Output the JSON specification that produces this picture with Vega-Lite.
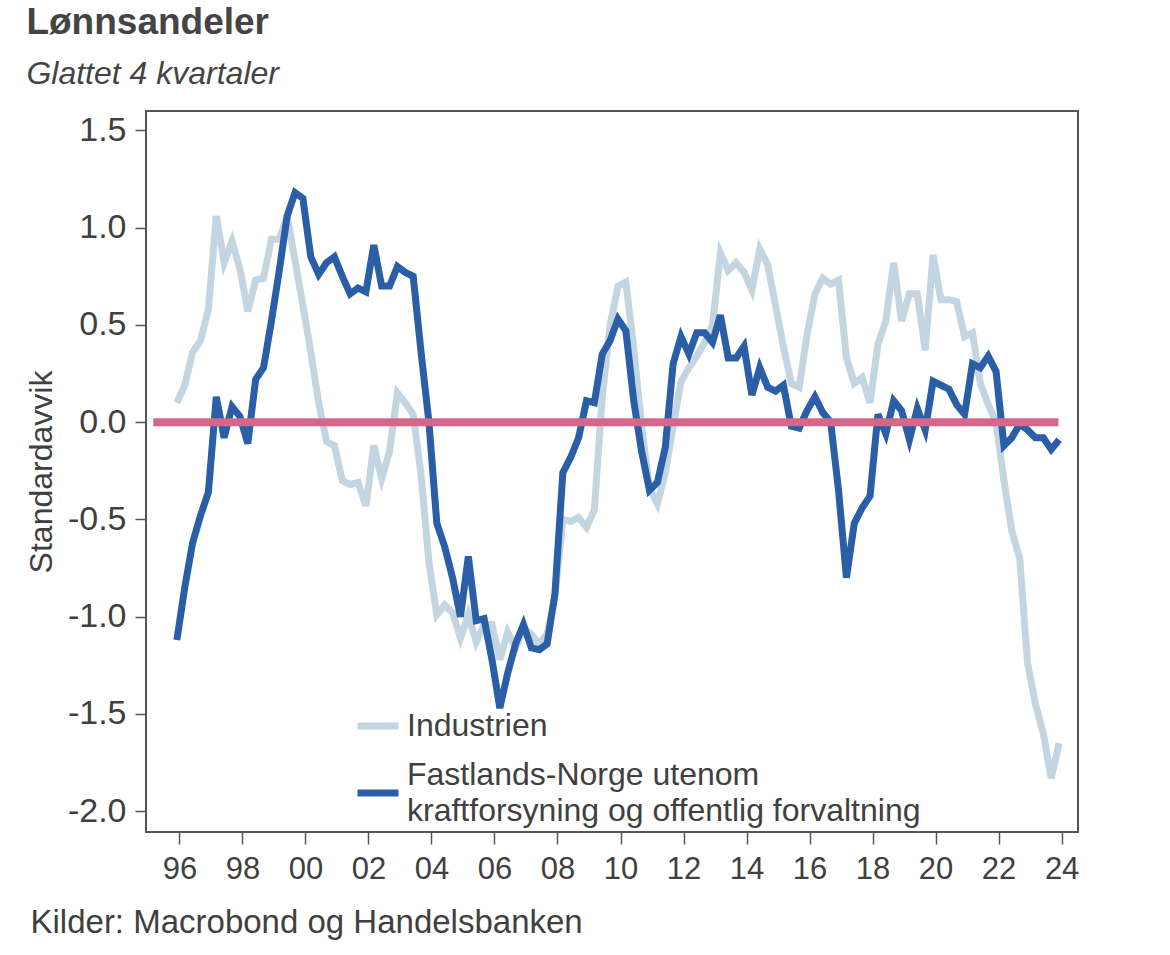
{
  "$schema": "https://vega.github.io/schema/vega-lite/v6.json",
  "width": 932,
  "height": 721,
  "autosize": {"type": "none"},
  "padding": {"left": 146, "top": 111, "right": 92, "bottom": 123},
  "background": "white",
  "config": {
    "font": "Liberation Sans",
    "view": {"stroke": "#555555", "strokeWidth": 2},
    "axis": {
      "grid": false,
      "domain": false,
      "labelFont": "Liberation Sans",
      "labelFontSize": 31,
      "labelColor": "#404040",
      "tickColor": "#555555",
      "tickWidth": 1.5,
      "titleFont": "Liberation Sans",
      "titleFontSize": 32,
      "titleColor": "#404040",
      "titleFontWeight": "normal"
    },
    "legend": {
      "orient": "none",
      "legendX": 208,
      "legendY": 591,
      "symbolType": "stroke",
      "symbolSize": 1681,
      "symbolStrokeWidth": 7,
      "labelFont": "Liberation Sans",
      "labelFontSize": 32,
      "labelColor": "#404040",
      "labelLimit": 0,
      "labelOffset": 5,
      "rowPadding": 17
    }
  },
  "title": {
    "text": "Lønnsandeler",
    "subtitle": "Glattet 4 kvartaler",
    "anchor": "start",
    "frame": "bounds",
    "font": "Liberation Sans",
    "fontSize": 37,
    "fontWeight": "bold",
    "color": "#444444",
    "subtitleFont": "Liberation Sans",
    "subtitleFontSize": 32,
    "subtitleFontStyle": "italic",
    "subtitleColor": "#444444",
    "subtitlePadding": 17,
    "offset": 20,
    "dx": 1
  },
  "datasets": {
    "serier": [
      {"t": 1995.92, "ind": 0.10, "fn": -1.12},
      {"t": 1996.17, "ind": 0.19, "fn": -0.85},
      {"t": 1996.42, "ind": 0.36, "fn": -0.62},
      {"t": 1996.67, "ind": 0.42, "fn": -0.48},
      {"t": 1996.92, "ind": 0.58, "fn": -0.36},
      {"t": 1997.17, "ind": 1.06, "fn": 0.13},
      {"t": 1997.42, "ind": 0.82, "fn": -0.08},
      {"t": 1997.67, "ind": 0.93, "fn": 0.08},
      {"t": 1997.92, "ind": 0.79, "fn": 0.03},
      {"t": 1998.17, "ind": 0.57, "fn": -0.11},
      {"t": 1998.42, "ind": 0.73, "fn": 0.22},
      {"t": 1998.67, "ind": 0.74, "fn": 0.28},
      {"t": 1998.92, "ind": 0.94, "fn": 0.52},
      {"t": 1999.17, "ind": 0.94, "fn": 0.78},
      {"t": 1999.42, "ind": 1.06, "fn": 1.06},
      {"t": 1999.67, "ind": 0.83, "fn": 1.18},
      {"t": 1999.92, "ind": 0.60, "fn": 1.15},
      {"t": 2000.17, "ind": 0.36, "fn": 0.85},
      {"t": 2000.42, "ind": 0.10, "fn": 0.76},
      {"t": 2000.67, "ind": -0.10, "fn": 0.82},
      {"t": 2000.92, "ind": -0.12, "fn": 0.85},
      {"t": 2001.17, "ind": -0.30, "fn": 0.75},
      {"t": 2001.42, "ind": -0.32, "fn": 0.66},
      {"t": 2001.67, "ind": -0.31, "fn": 0.69},
      {"t": 2001.92, "ind": -0.43, "fn": 0.67},
      {"t": 2002.17, "ind": -0.12, "fn": 0.91},
      {"t": 2002.42, "ind": -0.29, "fn": 0.70},
      {"t": 2002.67, "ind": -0.15, "fn": 0.70},
      {"t": 2002.92, "ind": 0.15, "fn": 0.80},
      {"t": 2003.17, "ind": 0.10, "fn": 0.77},
      {"t": 2003.42, "ind": 0.04, "fn": 0.75},
      {"t": 2003.67, "ind": -0.27, "fn": 0.36},
      {"t": 2003.92, "ind": -0.72, "fn": 0.00},
      {"t": 2004.17, "ind": -0.99, "fn": -0.52},
      {"t": 2004.42, "ind": -0.94, "fn": -0.64},
      {"t": 2004.67, "ind": -0.98, "fn": -0.80},
      {"t": 2004.92, "ind": -1.11, "fn": -1.00},
      {"t": 2005.17, "ind": -0.99, "fn": -0.69},
      {"t": 2005.42, "ind": -1.13, "fn": -1.02},
      {"t": 2005.67, "ind": -1.04, "fn": -1.01},
      {"t": 2005.92, "ind": -1.04, "fn": -1.22},
      {"t": 2006.17, "ind": -1.22, "fn": -1.47},
      {"t": 2006.42, "ind": -1.08, "fn": -1.29},
      {"t": 2006.67, "ind": -1.16, "fn": -1.14},
      {"t": 2006.92, "ind": -1.06, "fn": -1.04},
      {"t": 2007.17, "ind": -1.09, "fn": -1.16},
      {"t": 2007.42, "ind": -1.14, "fn": -1.17},
      {"t": 2007.67, "ind": -1.09, "fn": -1.14},
      {"t": 2007.92, "ind": -0.90, "fn": -0.88},
      {"t": 2008.17, "ind": -0.50, "fn": -0.26},
      {"t": 2008.42, "ind": -0.51, "fn": -0.18},
      {"t": 2008.67, "ind": -0.49, "fn": -0.08},
      {"t": 2008.92, "ind": -0.54, "fn": 0.11},
      {"t": 2009.17, "ind": -0.45, "fn": 0.10},
      {"t": 2009.42, "ind": 0.13, "fn": 0.35},
      {"t": 2009.67, "ind": 0.50, "fn": 0.42},
      {"t": 2009.92, "ind": 0.70, "fn": 0.53},
      {"t": 2010.17, "ind": 0.72, "fn": 0.47},
      {"t": 2010.42, "ind": 0.38, "fn": 0.11},
      {"t": 2010.67, "ind": -0.02, "fn": -0.15},
      {"t": 2010.92, "ind": -0.34, "fn": -0.35},
      {"t": 2011.17, "ind": -0.42, "fn": -0.31},
      {"t": 2011.42, "ind": -0.26, "fn": -0.13},
      {"t": 2011.67, "ind": -0.02, "fn": 0.30},
      {"t": 2011.92, "ind": 0.21, "fn": 0.44},
      {"t": 2012.17, "ind": 0.28, "fn": 0.35},
      {"t": 2012.42, "ind": 0.34, "fn": 0.46},
      {"t": 2012.67, "ind": 0.41, "fn": 0.46},
      {"t": 2012.92, "ind": 0.50, "fn": 0.41},
      {"t": 2013.17, "ind": 0.87, "fn": 0.55},
      {"t": 2013.42, "ind": 0.78, "fn": 0.33},
      {"t": 2013.67, "ind": 0.82, "fn": 0.33},
      {"t": 2013.92, "ind": 0.77, "fn": 0.39},
      {"t": 2014.17, "ind": 0.68, "fn": 0.14},
      {"t": 2014.42, "ind": 0.89, "fn": 0.28},
      {"t": 2014.67, "ind": 0.81, "fn": 0.18},
      {"t": 2014.92, "ind": 0.60, "fn": 0.16},
      {"t": 2015.17, "ind": 0.39, "fn": 0.19},
      {"t": 2015.42, "ind": 0.20, "fn": -0.02},
      {"t": 2015.67, "ind": 0.18, "fn": -0.03},
      {"t": 2015.92, "ind": 0.45, "fn": 0.06},
      {"t": 2016.17, "ind": 0.66, "fn": 0.13},
      {"t": 2016.42, "ind": 0.74, "fn": 0.05},
      {"t": 2016.67, "ind": 0.71, "fn": 0.00},
      {"t": 2016.92, "ind": 0.73, "fn": -0.35},
      {"t": 2017.17, "ind": 0.33, "fn": -0.80},
      {"t": 2017.42, "ind": 0.20, "fn": -0.52},
      {"t": 2017.67, "ind": 0.23, "fn": -0.44},
      {"t": 2017.92, "ind": 0.10, "fn": -0.38},
      {"t": 2018.17, "ind": 0.40, "fn": 0.04},
      {"t": 2018.42, "ind": 0.52, "fn": -0.06},
      {"t": 2018.67, "ind": 0.82, "fn": 0.11},
      {"t": 2018.92, "ind": 0.52, "fn": 0.06},
      {"t": 2019.17, "ind": 0.66, "fn": -0.09},
      {"t": 2019.42, "ind": 0.66, "fn": 0.07},
      {"t": 2019.67, "ind": 0.37, "fn": -0.04},
      {"t": 2019.92, "ind": 0.86, "fn": 0.21},
      {"t": 2020.17, "ind": 0.63, "fn": 0.19},
      {"t": 2020.42, "ind": 0.63, "fn": 0.17},
      {"t": 2020.67, "ind": 0.62, "fn": 0.09},
      {"t": 2020.92, "ind": 0.44, "fn": 0.04},
      {"t": 2021.17, "ind": 0.46, "fn": 0.30},
      {"t": 2021.42, "ind": 0.20, "fn": 0.28},
      {"t": 2021.67, "ind": 0.09, "fn": 0.34},
      {"t": 2021.92, "ind": 0.00, "fn": 0.26},
      {"t": 2022.17, "ind": -0.30, "fn": -0.12},
      {"t": 2022.42, "ind": -0.56, "fn": -0.08},
      {"t": 2022.67, "ind": -0.70, "fn": -0.01},
      {"t": 2022.92, "ind": -1.24, "fn": -0.04},
      {"t": 2023.17, "ind": -1.45, "fn": -0.08},
      {"t": 2023.42, "ind": -1.60, "fn": -0.08},
      {"t": 2023.67, "ind": -1.83, "fn": -0.14},
      {"t": 2023.92, "ind": -1.65, "fn": -0.09}
    ],
    "nullinje": [{"fra": 1995.17, "til": 2023.9, "y": 0}]
  },
  "layer": [
    {
      "data": {"name": "serier"},
      "mark": {"type": "line", "strokeWidth": 7, "strokeJoin": "miter"},
      "encoding": {
        "x": {
          "field": "t",
          "type": "quantitative",
          "scale": {"domain": [1994.94, 2024.52], "nice": false, "zero": false},
          "axis": {
            "values": [1996, 1998, 2000, 2002, 2004, 2006, 2008, 2010, 2012, 2014, 2016, 2018, 2020, 2022, 2024],
            "labelExpr": "substring(toString(datum.value), 2, 4)",
            "tickSize": 12,
            "labelPadding": 10,
            "labelFlush": false,
            "labelOverlap": false,
            "title": "Kilder: Macrobond og Handelsbanken",
            "titleFontSize": 33,
            "titleX": -116,
            "titleY": 90,
            "titleAlign": "left",
            "titleAnchor": "start",
            "titleBaseline": "middle"
          }
        },
        "y": {
          "field": "ind",
          "type": "quantitative",
          "title": "Standardavvik",
          "scale": {"domain": [-2.107, 1.6], "nice": false, "zero": false},
          "axis": {
            "values": [-2, -1.5, -1, -0.5, 0, 0.5, 1, 1.5],
            "labelExpr": "replace(format(datum.value, '.1f'), '\u2212', '-')",
            "labelFontSize": 34,
            "tickSize": 11,
            "labelPadding": 9,
            "titlePadding": 9
          }
        },
        "color": {
          "datum": "Industrien",
          "type": "nominal",
          "scale": {
            "domain": ["Industrien", "Fastlands-Norge utenom kraftforsyning og offentlig forvaltning"],
            "range": ["#c3d5e1", "#2a5ea6"]
          },
          "legend": {
            "title": null,
            "labelExpr": "datum.label == 'Industrien' ? 'Industrien' : ['Fastlands-Norge utenom', 'kraftforsyning og offentlig forvaltning']",
            "encoding": {
              "labels": {
                "lineHeight": {"value": 36},
                "dy": {"value": {"expr": "datum.label == 'Industrien' ? 0 : -18"}}
              }
            }
          }
        }
      }
    },
    {
      "data": {"name": "serier"},
      "mark": {"type": "line", "strokeWidth": 7, "strokeJoin": "miter"},
      "encoding": {
        "x": {"field": "t", "type": "quantitative"},
        "y": {"field": "fn", "type": "quantitative", "title": "Standardavvik"},
        "color": {"datum": "Fastlands-Norge utenom kraftforsyning og offentlig forvaltning", "type": "nominal"}
      }
    },
    {
      "data": {"name": "nullinje"},
      "mark": {"type": "rule", "color": "#d4688b", "strokeWidth": 8},
      "encoding": {
        "x": {"field": "fra", "type": "quantitative"},
        "x2": {"field": "til"},
        "y": {"field": "y", "type": "quantitative"}
      }
    }
  ]
}
